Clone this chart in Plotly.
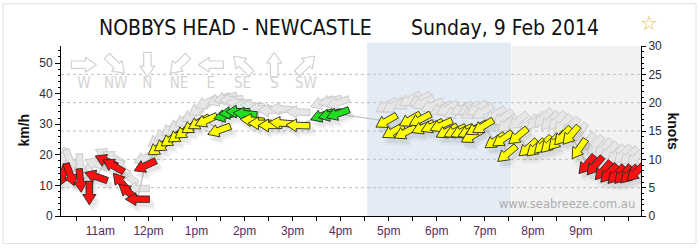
import math
import plotly.graph_objects as go

# ------------------------------------------------------------------ data
station = "NOBBYS HEAD - NEWCASTLE"
date_text = "Sunday, 9 Feb 2014"
watermark = "www.seabreeze.com.au"

# observation time (decimal hours), mean wind km/h, direction wind comes FROM (deg), gust km/h
times = [10.21, 10.37, 10.58, 10.77, 10.91, 11.12, 11.27, 11.43, 11.58, 11.77, 11.93,
         12.20, 12.33, 12.47, 12.62, 12.76, 12.91, 13.05, 13.20, 13.47,
         13.60, 13.72, 13.86, 14.01,
         14.16, 14.32, 14.53, 14.76, 15.11,
         15.61, 15.78, 15.94,
         16.95, 17.09, 17.34, 17.44, 17.65, 17.71, 17.90, 18.09, 18.21, 18.38, 18.52,
         18.67, 18.73, 18.83, 18.96, 19.21, 19.37, 19.46, 19.69, 19.90, 20.06, 20.21,
         20.35, 20.50, 20.62, 20.79, 20.96,
         21.12, 21.29, 21.46, 21.58, 21.73, 21.87, 22.00, 22.14]
speed_kmh = [13.2, 13.5, 11.6, 7.5, 12.9, 18.0, 16.4, 11.0, 7.8, 5.5, 16.4,
             22.2, 23.5, 25.1, 26.4, 27.7, 29.3, 30.5, 31.2, 28.0,
             32.8, 33.7, 34.1, 33.4,
             31.3, 30.3, 29.6, 30.4, 29.6,
             32.8, 33.1, 33.4,
             31.0, 27.6, 27.3, 31.4, 31.5, 28.9, 29.3, 29.6, 27.6, 27.6, 27.6,
             27.6, 26.1, 28.6, 29.3, 24.5, 25.1, 20.3, 26.1, 22.2, 22.2, 23.2,
             23.5, 24.5, 26.1, 26.4, 21.9,
             16.8, 16.4, 14.8, 13.9, 13.5, 13.5, 13.5, 14.2]
direction_deg = [20, 340, 355, 0, 110, 115, 120, 140, 130, 90, 65,
                 55, 55, 55, 55, 55, 58, 60, 65, 70,
                 75, 85, 90, 95,
                 95, 90, 90, 95, 92,
                 70, 75, 70,
                 60, 60, 62, 60, 62, 65, 65, 65, 62, 65, 65,
                 65, 60, 60, 58, 55, 55, 50, 50, 48, 48, 45,
                 45, 42, 42, 40, 35,
                 40, 40, 40, 42, 42, 42, 45, 45]
gust_kmh = [18.5, 18.0, 16.5, 13.0, 17.0, 20.0, 19.0, 16.0, 13.0, 9.0, 19.0,
            25.0, 27.0, 28.5, 30.0, 31.5, 33.0, 35.0, 37.0, 38.0,
            38.5, 38.0, 37.0, 36.0,
            36.0, 35.0, 34.5, 35.0, 34.0,
            37.0, 37.5, 37.0,
            36.0, 36.0, 37.0, 38.0, 38.0, 37.0, 36.0, 35.0, 35.0, 34.0, 35.0,
            35.0, 34.0, 35.0, 34.0, 33.0, 32.0, 30.0, 31.0, 30.0, 31.0, 32.0,
            31.0, 31.0, 30.0, 29.0, 27.0,
            24.0, 23.0, 22.0, 21.0, 20.0, 20.0, 19.5, 19.0]

hour_ticks = [11, 12, 13, 14, 15, 16, 17, 18, 19, 20, 21]
hour_labels = ["11am", "12pm", "1pm", "2pm", "3pm", "4pm", "5pm", "6pm", "7pm", "8pm", "9pm"]
kmh_ticks = [0, 10, 20, 30, 40, 50]
knot_ticks = [0, 5, 10, 15, 20, 25, 30]
knot_grid = [5, 10, 15, 20, 25]
legend_names = ["W", "NW", "N", "NE", "E", "SE", "S", "SW"]
legend_from_deg = [270, 315, 0, 45, 90, 135, 180, 225]
daylight_evening = (16.55, 19.545)
night = (19.56, 22.27)

# ------------------------------------------------------------------ layout constants
W, H = 700, 250
ML, MR, MT, MB = 61, 59, 46, 31
X0, X1 = 10.18, 22.25
KMH_PER_KNOT = 1.852
YMAX_KNOTS = 30
Y1 = YMAX_KNOTS * KMH_PER_KNOT
PW, PH = W - ML - MR, H - MT - MB
px_per_h = PW / (X1 - X0)
px_per_kmh = PH / Y1

TITLE_FONT = "DejaVu Sans Condensed, Liberation Sans Narrow, Liberation Sans"
ARROW = dict(L=24, hl=10.5, hw=13, sw=6.5)


def colour_for(v):
    if v < 10 * KMH_PER_KNOT:
        return "#ff1010"
    if v < 17.3 * KMH_PER_KNOT:
        return "#ffff00"
    return "#22dd22"


def arrow_xy(t, v, from_deg, L=24, hl=10.5, hw=13, sw=6.5, ox=0.0, oy=0.0, scale=1.0):
    r = math.radians(from_deg)
    ux, uy = -math.sin(r), -math.cos(r)
    qx, qy = -uy, ux
    local = [(L / 2, 0), (L / 2 - hl, hw / 2), (L / 2 - hl, sw / 2), (-L / 2, sw / 2),
             (-L / 2, -sw / 2), (L / 2 - hl, -sw / 2), (L / 2 - hl, -hw / 2), (L / 2, 0)]
    xs, ys = [], []
    for a, b in local:
        dx = (a * ux + b * qx) * scale + ox
        dy = (a * uy + b * qy) * scale + oy
        xs.append(t + dx / px_per_h)
        ys.append(v + dy / px_per_kmh)
    return xs, ys


def px_to_data(px, py):
    return X0 + (px - ML) / px_per_h, (H - MB - py) / px_per_kmh


fig = go.Figure()

# gust arrows (grey, behind)
for t, g, d in zip(times, gust_kmh, direction_deg):
    xs, ys = arrow_xy(t, g, d)
    fig.add_trace(go.Scatter(x=xs, y=ys, mode="lines", fill="toself",
                             fillcolor="#e6e6e6", line=dict(color="#cbcbcb", width=1),
                             hoverinfo="skip", showlegend=False))

# connecting line of mean wind
fig.add_trace(go.Scatter(x=times, y=speed_kmh, mode="lines",
                         line=dict(color="#c4c4c4", width=1.3),
                         hoverinfo="skip", showlegend=False))

# soft shadows
for off, alpha in [((2.5, -4.5), 0.10), ((4.5, -7.0), 0.06)]:
    sx, sy = [], []
    for t, v, d in zip(times, speed_kmh, direction_deg):
        xs, ys = arrow_xy(t, v, d, ox=off[0], oy=off[1], scale=1.1)
        sx += xs + [None]
        sy += ys + [None]
    fig.add_trace(go.Scatter(x=sx, y=sy, mode="lines", fill="toself",
                             fillcolor=f"rgba(90,90,90,{alpha})", line=dict(width=0),
                             hoverinfo="skip", showlegend=False))

# main wind arrows
for t, v, d in zip(times, speed_kmh, direction_deg):
    xs, ys = arrow_xy(t, v, d)
    fig.add_trace(go.Scatter(x=xs, y=ys, mode="lines", fill="toself",
                             fillcolor=colour_for(v), line=dict(color="#262626", width=0.9),
                             hoverinfo="skip", showlegend=False))

# direction key
lx, ly, ltext = [], [], []
for i, (name, d) in enumerate(zip(legend_names, legend_from_deg)):
    cx, cy = px_to_data(84 + i * 31.7, 65)
    xs, ys = arrow_xy(cx, cy, d, L=25, hl=11, hw=15, sw=7.5)
    fig.add_trace(go.Scatter(x=xs, y=ys, mode="lines", fill="toself", fillcolor="white",
                             line=dict(color="#d2d2d2", width=1.2),
                             hoverinfo="skip", showlegend=False))
    tx, ty = px_to_data(84 + i * 31.7, 85)
    lx.append(tx)
    ly.append(ty)
    ltext.append(name)
fig.add_trace(go.Scatter(x=lx, y=ly, mode="text", text=ltext,
                         textfont=dict(family="DejaVu Sans Condensed, Liberation Sans", size=15,
                                       color="#d4d4d4"),
                         hoverinfo="skip", showlegend=False))

# invisible trace to activate the knots axis
fig.add_trace(go.Scatter(x=[X0], y=[0], yaxis="y2", mode="markers",
                         marker=dict(opacity=0), hoverinfo="skip", showlegend=False))

shapes = [
    dict(type="rect", xref="x", yref="paper", x0=daylight_evening[0], x1=daylight_evening[1],
         y0=0, y1=1.02, fillcolor="#e3ebf5", line=dict(width=0), layer="below"),
    dict(type="rect", xref="x", yref="paper", x0=night[0], x1=night[1],
         y0=0, y1=1.0, fillcolor="#f2f2f2", line=dict(width=0), layer="below"),
]
for k in knot_grid:
    shapes.append(dict(type="line", xref="paper", yref="y2", x0=0, x1=1, y0=k, y1=k,
                       line=dict(color="#bdbdbd", width=1, dash="dot"), layer="below"))
# outer frame
shapes.append(dict(type="rect", xref="paper", yref="paper",
                   x0=(3 - ML) / PW, x1=(696 - ML) / PW,
                   y0=(H - MB - 247) / PH, y1=(H - MB - 3) / PH,
                   line=dict(color="#e2e2e2", width=1), layer="below"))


def pxp(px, py):
    return (px - ML) / PW, (H - MB - py) / PH


def label(text, px, py, font, angle=0):
    x, y = pxp(px, py)
    return dict(text=text, x=x, y=y, xref="paper", yref="paper", showarrow=False,
                xanchor="center", yanchor="middle", textangle=angle, font=font)


annotations = [
    label(station, 235, 28, dict(family=TITLE_FONT, size=21, color="#111111")),
    label(date_text, 505, 28, dict(family=TITLE_FONT, size=21, color="#111111")),
    label("☆", 649, 23, dict(family="DejaVu Sans", size=20, color="#efbd62")),
    label("<b>km/h</b>", 24, 132, dict(family="Liberation Sans, Arial", size=14, color="#111111"), -90),
    label("<b>knots</b>", 673, 133, dict(family="Liberation Sans, Arial", size=14, color="#111111"), 90),
    label(watermark, 567, 207, dict(family="DejaVu Sans", size=11.5, color="#adadad")),
]

axis_font = dict(family="Liberation Sans, Arial", size=12, color="#2b2b3b")

fig.update_layout(
    width=W, height=H,
    margin=dict(l=ML, r=MR, t=MT, b=MB, pad=0),
    paper_bgcolor="white", plot_bgcolor="white",
    showlegend=False,
    shapes=shapes,
    annotations=annotations,
    xaxis=dict(range=[X0, X1], tickmode="array", tickvals=hour_ticks, ticktext=hour_labels,
               ticks="outside", ticklen=4, tickcolor="black", showline=True, linecolor="black",
               linewidth=1, showgrid=False, zeroline=False, fixedrange=True,
               tickfont=dict(family="Liberation Sans, Arial", size=12, color="#552a5c"),
               minor=dict(tickmode="linear", tick0=10.5, dtick=0.5, ticks="outside", ticklen=4,
                          tickcolor="black", showgrid=False)),
    yaxis=dict(range=[0, Y1], tickmode="array", tickvals=kmh_ticks, ticks="outside", ticklen=5,
               tickcolor="black", showline=True, linecolor="black", linewidth=1,
               showgrid=False, zeroline=False, fixedrange=True, tickfont=axis_font,
               minor=dict(tickmode="linear", tick0=0, dtick=2, ticks="outside", ticklen=2.5,
                          tickcolor="black", showgrid=False)),
    yaxis2=dict(range=[0, YMAX_KNOTS], overlaying="y", side="right", tickmode="array",
                tickvals=knot_ticks, ticks="outside", ticklen=4, tickcolor="black",
                showline=True, linecolor="black", linewidth=1, showgrid=False, zeroline=False,
                fixedrange=True, tickfont=axis_font,
                minor=dict(tickmode="linear", tick0=0, dtick=1, ticks="outside", ticklen=2,
                           tickcolor="black", showgrid=False)),
)

fig.write_html("out.html", config={"displayModeBar": False, "staticPlot": True})
